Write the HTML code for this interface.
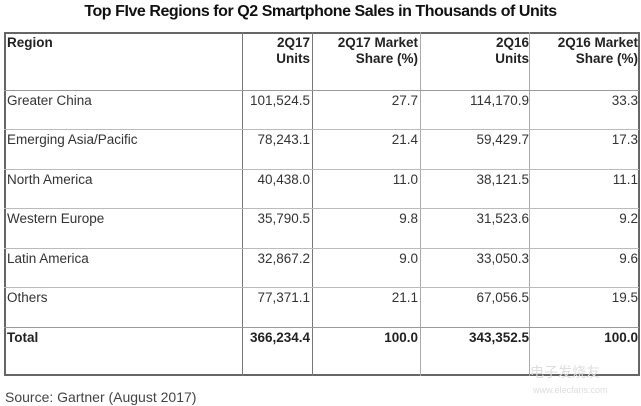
<!DOCTYPE html>
<html><head><style>
body{margin:0;width:641px;height:406px;background:#fff;position:relative;overflow:hidden;font-family:"Liberation Sans",Arial,sans-serif;}
.title{position:absolute;left:0;width:641px;top:3px;text-align:center;font-weight:bold;font-size:16px;color:#111;letter-spacing:-0.45px;}
.h{position:absolute;background:#777;}
.t{position:absolute;font-size:13.5px;color:#333;line-height:16px;white-space:nowrap;}
.r{text-align:right;}
.b{font-weight:bold;color:#222;}
</style></head><body>
<div class="title">Top FIve Regions for Q2 Smartphone Sales in Thousands of Units</div>
<div class="h" style="left:4px;top:32px;width:635px;height:2px;background:#666"></div>
<div class="h" style="left:4px;top:374px;width:635px;height:2px;background:#666"></div>
<div class="h" style="left:4px;top:32px;width:2px;height:344px;background:#666"></div>
<div class="h" style="left:638px;top:32px;width:2px;height:344px;background:#666"></div>
<div class="h" style="left:242px;top:32px;width:1px;height:344px"></div>
<div class="h" style="left:312px;top:32px;width:1px;height:344px"></div>
<div class="h" style="left:420px;top:32px;width:1px;height:344px;background:#aaa"></div>
<div class="h" style="left:529px;top:32px;width:1px;height:344px;background:#aaa"></div>
<div class="h" style="left:4px;top:90px;width:635px;height:1px;background:#999"></div>
<div class="h" style="left:4px;top:129px;width:635px;height:1px;background:#bbb"></div>
<div class="h" style="left:4px;top:169px;width:635px;height:1px;background:#bbb"></div>
<div class="h" style="left:4px;top:208px;width:635px;height:1px;background:#bbb"></div>
<div class="h" style="left:4px;top:248px;width:635px;height:1px;background:#bbb"></div>
<div class="h" style="left:4px;top:287px;width:635px;height:1px;background:#bbb"></div>
<div class="h" style="left:4px;top:327px;width:635px;height:1px;background:#999"></div>
<div class="t b" style="left:7px;top:35px">Region</div>
<div class="t b r" style="right:331px;top:35px">2Q17<br>Units</div>
<div class="t b r" style="right:223px;top:35px">2Q17 Market<br>Share (%)</div>
<div class="t b r" style="right:112px;top:35px">2Q16<br>Units</div>
<div class="t b r" style="right:3px;top:35px">2Q16 Market<br>Share (%)</div>

<div class="t" style="left:7px;top:93px">Greater China</div>
<div class="t r" style="right:331px;top:93px">101,524.5</div>
<div class="t r" style="right:223px;top:93px">27.7</div>
<div class="t r" style="right:112px;top:93px">114,170.9</div>
<div class="t r" style="right:3px;top:93px">33.3</div>

<div class="t" style="left:7px;top:132px">Emerging Asia/Pacific</div>
<div class="t r" style="right:331px;top:132px">78,243.1</div>
<div class="t r" style="right:223px;top:132px">21.4</div>
<div class="t r" style="right:112px;top:132px">59,429.7</div>
<div class="t r" style="right:3px;top:132px">17.3</div>

<div class="t" style="left:7px;top:172px">North America</div>
<div class="t r" style="right:331px;top:172px">40,438.0</div>
<div class="t r" style="right:223px;top:172px">11.0</div>
<div class="t r" style="right:112px;top:172px">38,121.5</div>
<div class="t r" style="right:3px;top:172px">11.1</div>

<div class="t" style="left:7px;top:211px">Western Europe</div>
<div class="t r" style="right:331px;top:211px">35,790.5</div>
<div class="t r" style="right:223px;top:211px">9.8</div>
<div class="t r" style="right:112px;top:211px">31,523.6</div>
<div class="t r" style="right:3px;top:211px">9.2</div>

<div class="t" style="left:7px;top:251px">Latin America</div>
<div class="t r" style="right:331px;top:251px">32,867.2</div>
<div class="t r" style="right:223px;top:251px">9.0</div>
<div class="t r" style="right:112px;top:251px">33,050.3</div>
<div class="t r" style="right:3px;top:251px">9.6</div>

<div class="t" style="left:7px;top:290px">Others</div>
<div class="t r" style="right:331px;top:290px">77,371.1</div>
<div class="t r" style="right:223px;top:290px">21.1</div>
<div class="t r" style="right:112px;top:290px">67,056.5</div>
<div class="t r" style="right:3px;top:290px">19.5</div>

<div class="t b" style="left:7px;top:330px">Total</div>
<div class="t b r" style="right:331px;top:330px">366,234.4</div>
<div class="t b r" style="right:223px;top:330px">100.0</div>
<div class="t b r" style="right:112px;top:330px">343,352.5</div>
<div class="t b r" style="right:3px;top:330px">100.0</div>

<div class="t" style="left:5px;top:389px;font-size:14px;color:#444">Source: Gartner (August 2017)</div>
<div class="t" style="left:530px;top:364px;font-size:14px;color:#ddd;font-family:'Liberation Sans','Noto Sans CJK SC',sans-serif">电子发烧友</div>
<div class="t" style="left:533px;top:382px;font-size:9px;color:#ddd">www.elecfans.com</div>
</body></html>
